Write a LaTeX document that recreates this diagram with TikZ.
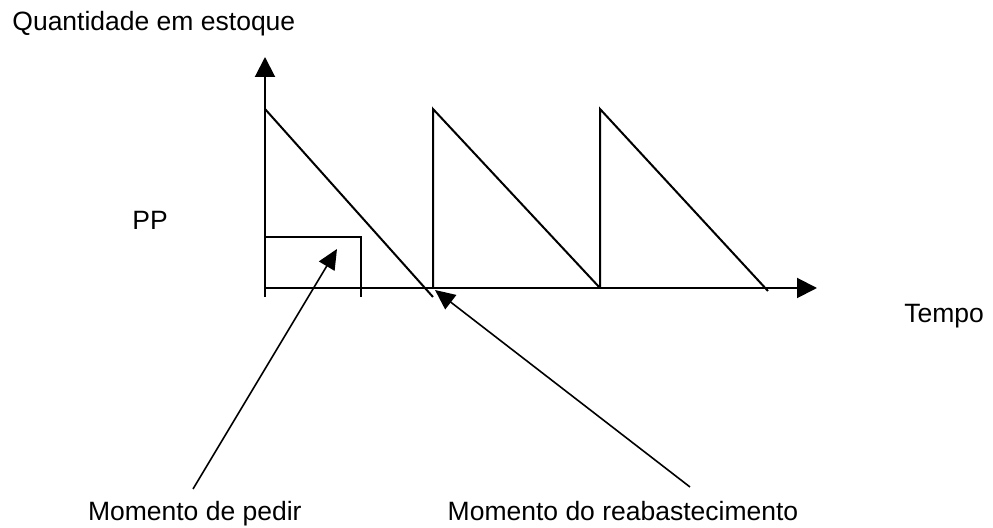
\documentclass[tikz,border=0pt]{standalone}
\usepackage{fontspec}
\setmainfont{Liberation Sans}
\usetikzlibrary{arrows.meta}

\tikzset{
  eixo/.style={line width=1pt,-{Triangle[length=10pt,width=10pt]}},
  linha/.style={line width=1pt},
  seta/.style={line width=0.8pt,-{Triangle[length=10pt,width=9pt]}},
  rotulo/.style={font=\fontsize{13.25}{15}\selectfont,inner sep=0pt}
}

\begin{document}
\begin{tikzpicture}[x=0.5pt,y=-0.5pt]
    \useasboundingbox (0,0) rectangle (993,528);
    % eixos
    \coordinate (o) at (265,288);
    \draw[eixo] (265,297)--(265,57);
    \draw[eixo] (o)--(817,288);
    \draw[linha] (361,288)--(361,297);
    % dentes
    \draw[linha] (265,109)--(433,297);
    \draw[linha] (433,288)--(433,109)--(600,288);
    \draw[linha] (600,288)--(600,109)--(768,291);
    % ponto de pedido
    \draw[linha] (265,237)--(361,237)--(361,288);
    % textos
    \node[rotulo,anchor=base west] (qtd) at (12,31) {Quantidade em estoque};
    \node[rotulo,anchor=base west] (pp) at (132,230) {PP};
    \node[rotulo,anchor=base west] (tempo) at (904,323) {Tempo};
    \node[rotulo,anchor=base east] (pedir) at (302,521) {Momento de pedir};
    \node[rotulo,anchor=base] (reab) at (623,521) {Momento do reabastecimento};
    % setas
    \coordinate (pedirpt) at (193,489);
    \coordinate (reabpt) at (690,487);
    \draw[seta] (pedirpt)--(337,249);
    \draw[seta] (reabpt)--(435,290);
\end{tikzpicture}
\end{document}
